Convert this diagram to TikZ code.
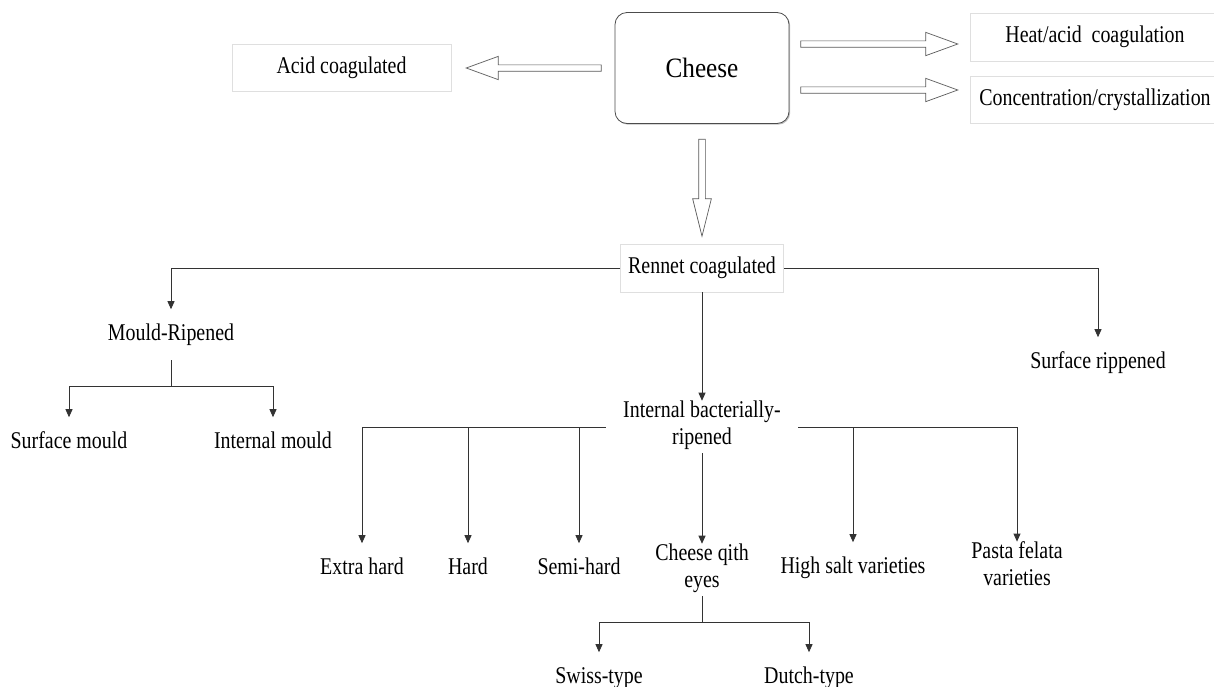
\documentclass[tikz,border=0pt]{standalone}
\usepackage{fontspec}
\setmainfont{Liberation Serif}[FakeStretch=0.83]
\newfontfamily\cheesefont{Liberation Serif}[FakeStretch=0.9]
\usetikzlibrary{arrows.meta,shapes.arrows,shadows,positioning}
\newcommand{\lblfont}{\fontsize{24}{27}\selectfont}
\begin{document}
\begin{tikzpicture}[x=1pt,y=-1pt,line width=0.8pt,
  >={Triangle[length=8pt,width=7pt]},
  box/.style={draw=gray!25,minimum height=47pt,font=\lblfont},
  leaf/.style={align=center,inner sep=0pt,minimum height=50pt,font=\lblfont,
    execute at begin node=\strut,execute at end node=\strut},
  hollow/.style={single arrow,draw=black!65,fill=white,line width=0.7pt,inner sep=2.8pt,
    single arrow head extend=8.5pt,single arrow tip angle=40,anchor=tail,minimum height=#1},
  link/.style={->,draw=black!80}]
\useasboundingbox (0,0) rectangle (1214,686);
\node[draw=black!70,fill=white,rounded corners=12pt,minimum width=174pt,minimum height=111pt,
  font=\cheesefont\fontsize{28}{32}\selectfont,
  drop shadow={shadow xshift=1.2pt,shadow yshift=-1.2pt,opacity=.5}] (cheese) at (702,68) {Cheese};
\node[box,minimum width=219pt] (acid) at (341.5,67.5) {Acid coagulated};
\node[box,minimum width=250pt,minimum height=48pt] (heat) at (1095,37) {Heat/acid\ \ coagulation};
\node[box,minimum width=250pt] (conc) at (1095,100) {Concentration/crystallization};
\node[box,minimum width=163pt,minimum height=48pt] (rennet) at (702,268) {Rennet coagulated};
\node[hollow=135pt,shape border rotate=180] (toacid) at ([xshift=-13pt]cheese.west) {};
\node[hollow=157pt] (toheat) at ([xshift=11pt,yshift=24pt]cheese.east) {};
\node[hollow=157pt] (toconc) at ([xshift=11pt,yshift=-22pt]cheese.east) {};
\node[hollow=97pt,shape border rotate=270,inner sep=3pt,single arrow head extend=6pt,
  single arrow tip angle=28] (torennet) at ([yshift=-15pt]cheese.south) {};
\node[leaf] (mould) at (171,334.6) {Mould-Ripened};
\node[leaf] (smould) at (69,442.6) {Surface mould};
\node[leaf] (imould) at (273,442.6) {Internal mould};
\node[leaf] (srip) at (1098,362.6) {Surface rippened};
\node[leaf,inner xsep=17pt] (ibr) at (702,427) {Internal bacterially-\\ripened};
\node[leaf] (xhard) at (362,568.6) {Extra hard};
\node[leaf] (hard) at (468,568.6) {Hard};
\node[leaf] (semi) at (579,568.6) {Semi-hard};
\node[leaf] (eyes) at (702,570) {Cheese qith\\eyes};
\node[leaf] (salt) at (853,567.6) {High salt varieties};
\node[leaf] (pasta) at (1017,568) {Pasta felata\\varieties};
\node[leaf] (swiss) at (599,677.6) {Swiss-type};
\node[leaf] (dutch) at (809,677.6) {Dutch-type};
\coordinate (mjoin) at (171,386);
\coordinate (ejoin) at (702,622);
\draw[link] (rennet.west) -| (mould.north);
\draw[link] (rennet.east) -| (srip.north);
\draw[link] (rennet.south) -- (ibr.north);
\draw[link] (mould.south) -- (mjoin) -| (smould.north);
\draw[link] (mjoin) -| (imould.north);
\foreach \n in {xhard,hard,semi}{
	\draw[link] (ibr.west) -| (\n.north);}
\foreach \n in {salt,pasta}{
	\draw[link] (ibr.east) -| (\n.north);}
\draw[link] (ibr.south) -- (eyes.north);
\draw[link] (eyes.south) -- (ejoin) -| (swiss.north);
\draw[link] (ejoin) -| (dutch.north);
\end{tikzpicture}
\end{document}
